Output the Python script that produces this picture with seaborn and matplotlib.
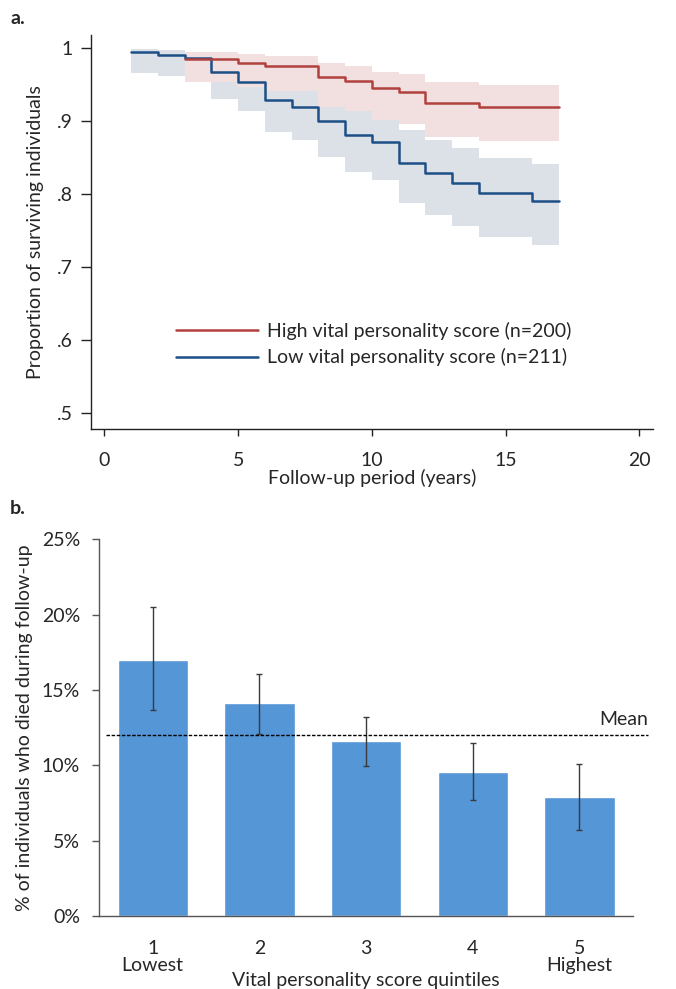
import matplotlib
matplotlib.use('Agg')
import matplotlib.pyplot as plt
import matplotlib.transforms as mtransforms
from matplotlib.ticker import FuncFormatter
import seaborn as sns

# ---------------------------------------------------------------------
# Panel a: Kaplan-Meier survival, high vs low vital personality score
# ---------------------------------------------------------------------
high_years = [3, 5, 6, 8, 9, 10, 11, 12, 14, 17]
high_surv = [.985, .980, .975, .960, .955, .945, .940, .925, .920, .920]
high_upper = [.995, .992, .989, .979, .975, .968, .964, .953, .949, .949]
high_lower = [.953, .947, .941, .920, .914, .902, .8955, .878, .8726, .8726]

low_years = [1, 2, 3, 4, 5, 6, 7, 8, 9, 10, 11, 12, 13, 14, 16, 17]
low_surv = [.995, .990, .986, .967, .953, .929, .920, .900, .881, .872,
            .843, .829, .815, .801, .791, .791]
low_upper = [.999, .998, .990, .985, .975, .955, .948, .9205, .915, .902,
             .888, .874, .863, .849, .841, .841]
low_lower = [.966, .962, .955, .931, .914, .885, .874, .851, .830, .819,
             .788, .772, .757, .741, .730, .730]

high_label = 'High vital personality score (n=200)'
low_label = 'Low vital personality score (n=211)'

# ---------------------------------------------------------------------
# Panel b: % who died during follow-up by quintile
# ---------------------------------------------------------------------
quintiles = ['1', '2', '3', '4', '5']
quintile_ticks = ['1\nLowest', '2', '3', '4', '5\nHighest']
death_pct = [17.0, 14.1, 11.6, 9.55, 7.9]
ci_low = [13.7, 12.07, 9.97, 7.7, 5.7]
ci_high = [20.5, 16.05, 13.2, 11.5, 10.1]
mean_pct = 12.02

RED = '#b0413e'
BLUE = '#1b4f86'
RED_FILL = '#f2dfdf'
BLUE_FILL = '#dce0e7'
BAR = '#5596d7'

sns.set_style('white')
plt.rcParams['font.family'] = ['Lato', 'DejaVu Sans']
FS = 14

fig = plt.figure(figsize=(6.76, 9.89), dpi=100)

# ----- panel a -----
ax1 = fig.add_axes([0.1346, 0.5666, 0.831, 0.398])
ax1.fill_between(low_years, low_lower, low_upper, step='post',
                 color=BLUE_FILL, lw=0)
ax1.fill_between(high_years, high_lower, high_upper, step='post',
                 color=RED_FILL, lw=0)
sns.lineplot(x=low_years, y=low_surv, drawstyle='steps-post', color=BLUE,
             lw=1.8, ax=ax1, label=low_label)
sns.lineplot(x=high_years, y=high_surv, drawstyle='steps-post', color=RED,
             lw=1.8, ax=ax1, label=high_label)

ax1.set_xlim(-0.5, 20.5)
ax1.set_ylim(0.479, 1.018)
ax1.set_xticks([0, 5, 10, 15, 20])
ax1.set_yticks([.5, .6, .7, .8, .9, 1])
ax1.yaxis.set_major_formatter(FuncFormatter(
    lambda v, p: '1' if abs(v - 1) < 1e-9 else ('%.1f' % v).lstrip('0')))
for s in ['top', 'right']:
    ax1.spines[s].set_visible(False)
for s in ['left', 'bottom']:
    ax1.spines[s].set_color('#222222')
    ax1.spines[s].set_linewidth(1.0)
ax1.tick_params(axis='y', direction='out', length=7, width=1, pad=6,
                labelsize=FS, left=True, color='#222222')
ax1.tick_params(axis='x', direction='out', length=5, width=1, pad=12,
                labelsize=FS, bottom=True, color='#222222')
ax1.set_xlabel('Follow-up period (years)', fontsize=FS, labelpad=0)
ax1.set_ylabel('Proportion of surviving individuals', fontsize=FS, labelpad=9)

handles, labels = ax1.get_legend_handles_labels()
ax1.legend(handles[::-1], labels[::-1], loc='upper left',
           bbox_to_anchor=(0.12, 0.315), frameon=False, fontsize=FS,
           handlelength=4.2, handletextpad=0.5, labelspacing=0.42)

# ----- panel b -----
ax2 = fig.add_axes([0.147, 0.0738, 0.789, 0.381])
sns.barplot(x=quintiles, y=death_pct, color=BAR, saturation=1, width=0.66,
            errorbar=None, ax=ax2)
yerr = [[d - lo for d, lo in zip(death_pct, ci_low)],
        [hi - d for d, hi in zip(death_pct, ci_high)]]
ax2.errorbar(range(len(quintiles)), death_pct, yerr=yerr, fmt='none',
             ecolor='#3a3a3a', elinewidth=1, capsize=2.5, capthick=1)

trans = mtransforms.blended_transform_factory(ax2.transAxes, ax2.transData)
ax2.axhline(mean_pct, xmin=0.012, xmax=1.028, color='black', lw=1,
            ls=(0, (2.5, 1.2)), clip_on=False)
ax2.text(1.028, mean_pct + 0.45, 'Mean', transform=trans, ha='right',
         va='bottom', fontsize=FS)

ax2.set_xlim(-0.5, 4.5)
ax2.set_ylim(0, 25)
ax2.set_yticks([0, 5, 10, 15, 20, 25])
ax2.yaxis.set_major_formatter(FuncFormatter(lambda v, p: '%d%%' % v))
ax2.set_xticks(range(len(quintiles)))
ax2.set_xticklabels(quintile_ticks, linespacing=1.05)
for s in ['top', 'right']:
    ax2.spines[s].set_visible(False)
for s in ['left', 'bottom']:
    ax2.spines[s].set_color('#555555')
    ax2.spines[s].set_linewidth(1.0)
ax2.tick_params(axis='y', direction='out', length=5, width=1, pad=9,
                labelsize=FS, left=True, color='#555555')
ax2.tick_params(axis='x', length=0, pad=17, labelsize=FS)
ax2.set_xlabel('Vital personality score quintiles', fontsize=FS, labelpad=-2)
ax2.set_ylabel('% of individuals who died during follow-up', fontsize=FS,
               labelpad=6)

fig.text(0.015, 1 - 18 / 989, 'a.', fontsize=FS, weight='bold', va='center')
fig.text(0.015, 1 - 509 / 989, 'b.', fontsize=FS, weight='bold', va='center')

fig.savefig('out.png', dpi=100)
